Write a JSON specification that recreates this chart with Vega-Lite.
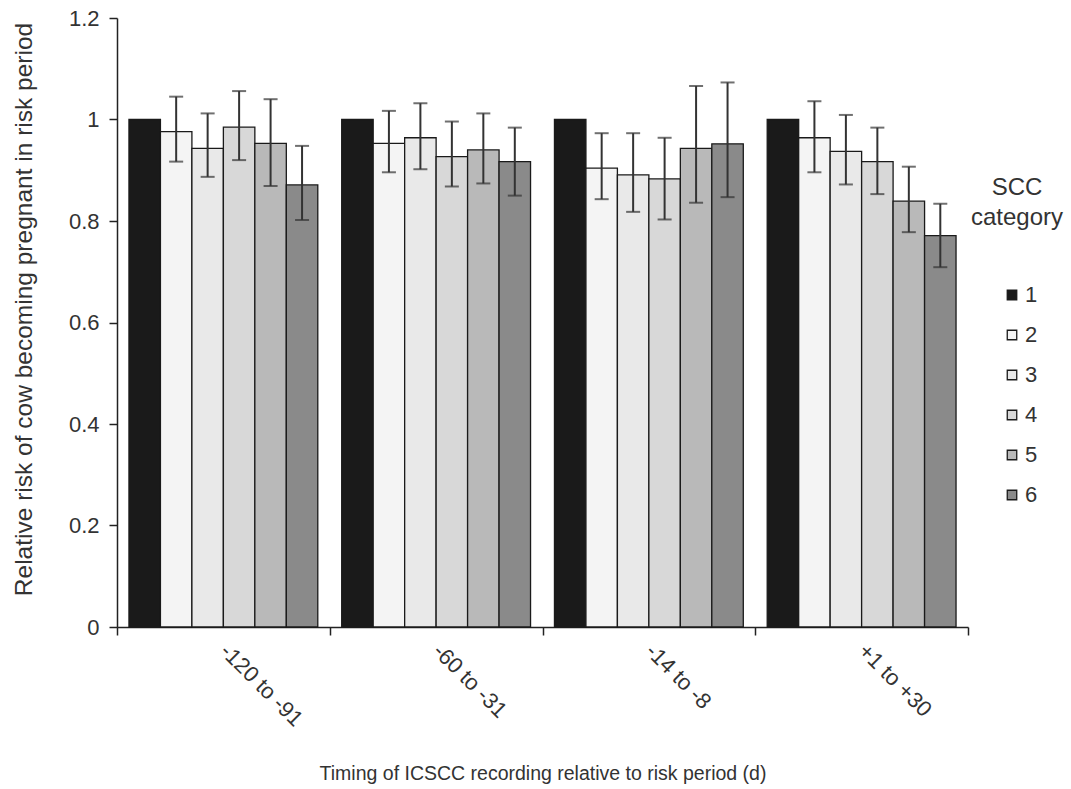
{
  "$schema": "https://vega.github.io/schema/vega-lite/v6.json",
  "width": 851,
  "height": 609,
  "autosize": {"type": "none"},
  "padding": {"left": 117, "top": 18, "right": 103, "bottom": 162},
  "background": "white",
  "config": {
    "font": "Liberation Sans",
    "view": {"stroke": null},
    "axis": {"labelFont": "Liberation Sans", "titleFont": "Liberation Sans", "labelColor": "#333", "titleColor": "#333", "titleFontWeight": "normal", "domainColor": "#222", "tickColor": "#222", "domainWidth": 1.5, "tickWidth": 1.5, "grid": false},
    "legend": {"labelFont": "Liberation Sans", "titleFont": "Liberation Sans"}
  },
  "data": {
    "values": [
      {"period": "-120 to -91", "cat": "1", "rr": 1.0, "lo": null, "hi": null},
      {"period": "-120 to -91", "cat": "2", "rr": 0.976, "lo": 0.917, "hi": 1.045},
      {"period": "-120 to -91", "cat": "3", "rr": 0.943, "lo": 0.887, "hi": 1.012},
      {"period": "-120 to -91", "cat": "4", "rr": 0.985, "lo": 0.920, "hi": 1.056},
      {"period": "-120 to -91", "cat": "5", "rr": 0.953, "lo": 0.869, "hi": 1.040},
      {"period": "-120 to -91", "cat": "6", "rr": 0.871, "lo": 0.802, "hi": 0.948},
      {"period": "-60 to -31", "cat": "1", "rr": 1.0, "lo": null, "hi": null},
      {"period": "-60 to -31", "cat": "2", "rr": 0.953, "lo": 0.896, "hi": 1.017},
      {"period": "-60 to -31", "cat": "3", "rr": 0.964, "lo": 0.902, "hi": 1.032},
      {"period": "-60 to -31", "cat": "4", "rr": 0.927, "lo": 0.868, "hi": 0.996},
      {"period": "-60 to -31", "cat": "5", "rr": 0.940, "lo": 0.874, "hi": 1.012},
      {"period": "-60 to -31", "cat": "6", "rr": 0.917, "lo": 0.850, "hi": 0.984},
      {"period": "-14 to -8", "cat": "1", "rr": 1.0, "lo": null, "hi": null},
      {"period": "-14 to -8", "cat": "2", "rr": 0.904, "lo": 0.843, "hi": 0.973},
      {"period": "-14 to -8", "cat": "3", "rr": 0.891, "lo": 0.818, "hi": 0.973},
      {"period": "-14 to -8", "cat": "4", "rr": 0.883, "lo": 0.803, "hi": 0.964},
      {"period": "-14 to -8", "cat": "5", "rr": 0.943, "lo": 0.836, "hi": 1.066},
      {"period": "-14 to -8", "cat": "6", "rr": 0.952, "lo": 0.847, "hi": 1.073},
      {"period": "+1 to +30", "cat": "1", "rr": 1.0, "lo": null, "hi": null},
      {"period": "+1 to +30", "cat": "2", "rr": 0.964, "lo": 0.896, "hi": 1.036},
      {"period": "+1 to +30", "cat": "3", "rr": 0.937, "lo": 0.872, "hi": 1.009},
      {"period": "+1 to +30", "cat": "4", "rr": 0.917, "lo": 0.853, "hi": 0.984},
      {"period": "+1 to +30", "cat": "5", "rr": 0.839, "lo": 0.778, "hi": 0.907},
      {"period": "+1 to +30", "cat": "6", "rr": 0.771, "lo": 0.709, "hi": 0.834}
    ]
  },
  "encoding": {
    "x": {
      "field": "period", "type": "nominal",
      "sort": ["-120 to -91", "-60 to -31", "-14 to -8", "+1 to +30"],
      "scale": {"paddingInner": 0, "paddingOuter": 0},
      "axis": {"title": "Timing of ICSCC recording relative to risk period (d)", "titleFontSize": 19.5, "titlePadding": 34, "labelAngle": 45, "labelAlign": "left", "labelBaseline": "middle", "labelFontSize": 22, "labelPadding": 12, "tickBand": "extent", "tickSize": 8}
    },
    "xOffset": {"field": "cat", "type": "nominal", "scale": {"paddingInner": 0, "paddingOuter": 0.38}}
  },
  "layer": [
    {
      "mark": {"type": "bar", "stroke": "#1a1a1a", "strokeWidth": 1.3},
      "encoding": {
        "y": {
          "field": "rr", "type": "quantitative",
          "scale": {"domain": [0, 1.2], "nice": false, "zero": true},
          "axis": {"title": "Relative risk of cow becoming pregnant in risk period", "titleFontSize": 24.5, "titlePadding": 32, "titleY": 291, "values": [0, 0.2, 0.4, 0.6, 0.8, 1, 1.2], "labelExpr": "'' + datum.value", "labelFontSize": 22, "labelPadding": 10, "tickSize": 8}
        },
        "fill": {
          "field": "cat", "type": "nominal",
          "scale": {"domain": ["1", "2", "3", "4", "5", "6"], "range": ["#1a1a1a", "#f4f4f4", "#e9e9e9", "#d8d8d8", "#b9b9b9", "#8a8a8a"]},
          "legend": {"title": ["SCC", "category"], "orient": "none", "legendX": 854, "legendY": 158, "titleFontSize": 24, "titleFontWeight": "normal", "titleColor": "#333", "titleAlign": "center", "titleAnchor": "middle", "titlePadding": 54, "titleLineHeight": 30, "labelFontSize": 22, "labelColor": "#333", "symbolType": "square", "symbolSize": 90, "symbolOffset": 4, "symbolStrokeColor": "#1a1a1a", "symbolStrokeWidth": 1.3, "rowPadding": 18, "labelOffset": 2}
        }
      }
    },
    {
      "transform": [{"filter": "datum.lo != null"}],
      "mark": {"type": "rule", "color": "#333", "strokeWidth": 2},
      "encoding": {
        "y": {"field": "lo", "type": "quantitative"},
        "y2": {"field": "hi"}
      }
    },
    {
      "transform": [{"filter": "datum.lo != null"}],
      "mark": {"type": "tick", "color": "#333", "thickness": 2, "size": 14, "orient": "horizontal"},
      "encoding": {"y": {"field": "lo", "type": "quantitative"}}
    },
    {
      "transform": [{"filter": "datum.lo != null"}],
      "mark": {"type": "tick", "color": "#333", "thickness": 2, "size": 14, "orient": "horizontal"},
      "encoding": {"y": {"field": "hi", "type": "quantitative"}}
    }
  ]
}
